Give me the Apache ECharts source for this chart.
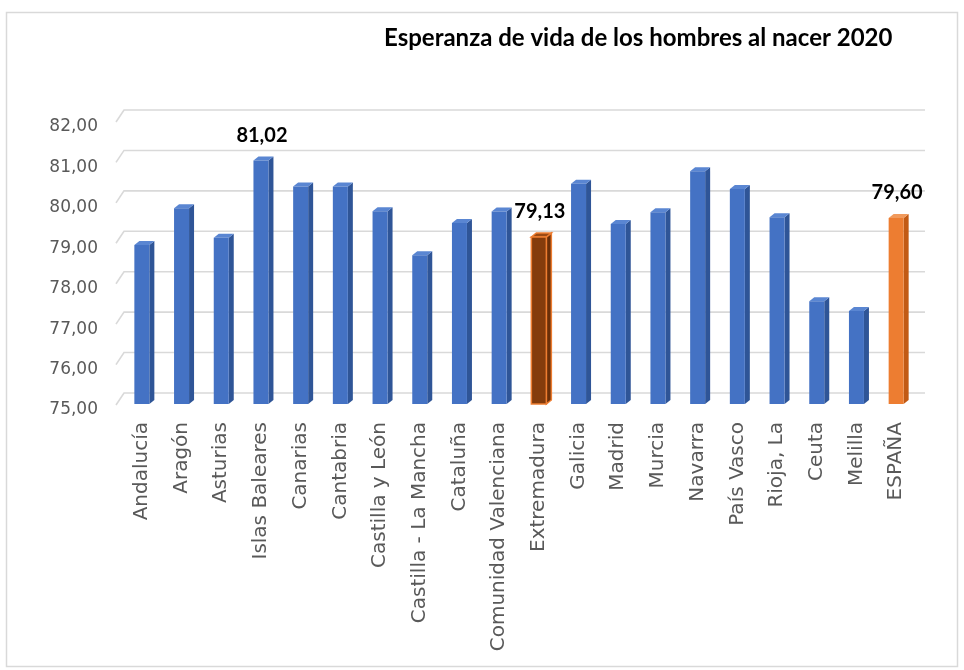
<!DOCTYPE html>
<html>
<head>
<meta charset="utf-8">
<script src="https://cdn.jsdelivr.net/npm/echarts@6/dist/echarts.min.js"></script>
<style>
html,body{margin:0;padding:0;background:#fff;}
#chart{width:964px;height:670px;}
</style>
</head>
<body>
<div id="chart"></div>
<script>
const titleText = 'Esperanza de vida de los hombres al nacer 2020';
const categories = ['Andalucía','Aragón','Asturias','Islas Baleares','Canarias','Cantabria','Castilla y León','Castilla - La Mancha','Cataluña','Comunidad Valenciana','Extremadura','Galicia','Madrid','Murcia','Navarra','País Vasco','Rioja, La','Ceuta','Melilla','ESPAÑA'];
const values = [78.93, 79.84, 79.11, 81.02, 80.38, 80.38, 79.77, 78.68, 79.48, 79.76, 79.13, 80.45, 79.45, 79.74, 80.76, 80.32, 79.62, 77.54, 77.30, 79.60];
const labeledCategories = ['Islas Baleares', 'Extremadura', 'ESPAÑA'];
const highlightDark = ['Extremadura'];
const highlightOrange = ['ESPAÑA'];
const yTicks = [75, 76, 77, 78, 79, 80, 81, 82];

const fmt = v => v.toFixed(2).replace('.', ',');

const palette = {
  blue: {front: '#4472C4', side: '#2F5597', top: '#5A86D2', stroke: null},
  dark: {front: '#843C0C', side: '#6A2F08', top: '#9A4A14', stroke: '#ED7D31'},
  orange: {front: '#ED7D31', side: '#C25A14', top: '#F19A5C', stroke: null}
};

const chart = echarts.init(document.getElementById('chart'));

const barData = categories.map((c, i) => [i, values[i]]);
const gridData = yTicks.map(v => [0, v]);

chart.setOption({
  backgroundColor: '#ffffff',
  animation: false,
  title: {
    text: titleText,
    left: 379,
    top: 21,
    textStyle: {fontFamily: 'Lato', fontWeight: 'bold', fontSize: 24, color: '#000000'}
  },
  graphic: [{
    type: 'rect',
    shape: {x: 6.5, y: 12.5, width: 951, height: 654},
    style: {fill: 'none', stroke: '#d9d9d9', lineWidth: 1.5},
    silent: true, z: -10
  }],
  grid: {left: 122, right: 48, top: 121, bottom: 266, containLabel: false},
  xAxis: {
    type: 'category',
    data: categories,
    axisLine: {show: false},
    axisTick: {show: false},
    splitLine: {show: false},
    axisLabel: {
      rotate: 90, margin: 18, interval: 0,
      fontFamily: 'DejaVu Sans', fontSize: 20, color: '#595959'
    }
  },
  yAxis: {
    type: 'value',
    min: 75, max: 82, interval: 1,
    axisLine: {show: false},
    axisTick: {show: false},
    splitLine: {show: false},
    axisLabel: {
      margin: 24,
      formatter: v => '{a|' + fmt(v) + '}',
      rich: {a: {padding: [12, 0, 0, 0], fontFamily: 'DejaVu Sans', fontSize: 17, color: '#595959'}},
      fontFamily: 'DejaVu Sans', fontSize: 17, color: '#595959'
    }
  },
  series: [
    {
      type: 'custom',
      z: 1,
      silent: true,
      data: gridData,
      encode: {x: 0, y: 1},
      renderItem: function (params, api) {
        const cs = params.coordSys;
        const y = api.coord([0, api.value(1)])[1];
        return {
          type: 'polyline',
          shape: {points: [[cs.x - 6, y + 1], [cs.x + 2, y - 11], [cs.x + cs.width + 9, y - 11]]},
          style: {stroke: '#d9d9d9', lineWidth: 1.6, fill: 'none'}
        };
      }
    },
    {
      type: 'custom',
      z: 3,
      data: barData,
      encode: {x: 0, y: 1},
      renderItem: function (params, api) {
        const idx = api.value(0);
        const v = api.value(1);
        const name = categories[idx];
        const top = api.coord([idx, v]);
        const base = api.coord([idx, 75]);
        const w = 15, dx = 5, dy = 4;
        const xl = top[0] - w / 2, xr = top[0] + w / 2;
        const yt = top[1], yb = base[1];
        let pal = palette.blue;
        if (highlightDark.indexOf(name) >= 0) pal = palette.dark;
        if (highlightOrange.indexOf(name) >= 0) pal = palette.orange;
        const strokeStyle = pal.stroke ? {stroke: pal.stroke, lineWidth: 1.5} : {stroke: null};
        const children = [
          {type: 'polygon', shape: {points: [[xr, yt], [xr + dx, yt - dy], [xr + dx, yb - dy], [xr, yb]]},
            style: Object.assign({fill: pal.side}, strokeStyle)},
          {type: 'polygon', shape: {points: [[xl, yt], [xl + dx, yt - dy], [xr + dx, yt - dy], [xr, yt]]},
            style: Object.assign({fill: pal.top}, strokeStyle)},
          {type: 'rect', shape: {x: xl, y: yt, width: w, height: yb - yt},
            style: Object.assign({fill: pal.front}, strokeStyle)}
        ];
        if (labeledCategories.indexOf(name) >= 0) {
          children.push({
            type: 'text',
            style: {
              x: top[0] + 1, y: yt - 25, text: fmt(v),
              align: 'center', verticalAlign: 'middle',
              font: 'bold 20px Lato', fill: '#000000'
            }
          });
        }
        return {type: 'group', children: children};
      }
    }
  ]
});
</script>
</body>
</html>
